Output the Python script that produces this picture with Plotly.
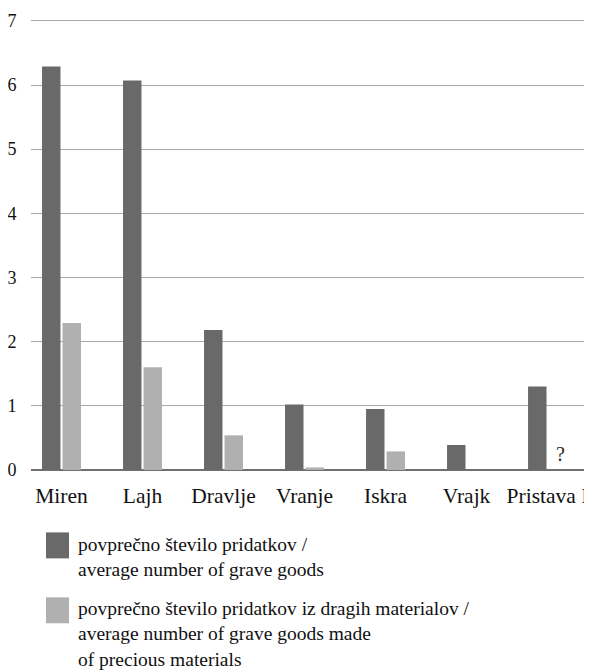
import plotly.graph_objects as go

categories = ["Miren", "Lajh", "Dravlje", "Vranje", "Iskra", "Vrajk", "Pristava I"]
avg_goods = [6.29, 6.07, 2.18, 1.02, 0.95, 0.39, 1.30]
avg_precious = [2.29, 1.60, 0.54, 0.04, 0.29, 0, None]
y_ticks = [0, 1, 2, 3, 4, 5, 6, 7]
legend_labels = [
    "povprečno število pridatkov /<br>average number of grave goods",
    "povprečno število pridatkov iz dragih materialov /<br>average number of grave goods made<br>of precious materials",
]

DARK = "#696969"
LIGHT = "#b0b0b0"
FONT = "Liberation Serif, Times New Roman, DejaVu Serif, serif"

OFF = 8  # page body margin
UNIT = 64.26  # px per y unit
YTOP = 7.06
W, H = 592 - OFF, 672 - OFF
ML, MR = 31 - OFF, 0
MT = (20.7 - (YTOP - 7) * UNIT) - OFF
MB = H - (470.5 - OFF)
PW = W - ML - MR
PH = H - MT - MB


def px(x):
    return (x - OFF - ML) / PW


def py(y):
    return (H - MB - (y - OFF)) / PH


fig = go.Figure()
fig.add_trace(go.Bar(x=categories, y=avg_goods, marker=dict(color=DARK, line=dict(width=0)),
                     name="a", showlegend=False))
fig.add_trace(go.Bar(x=categories, y=avg_precious, marker=dict(color=LIGHT, line=dict(width=0)),
                     name="b", showlegend=False))

fig.add_annotation(x=categories[-1], y=0, text="?", showarrow=False, xshift=13, yshift=3,
                   yanchor="bottom", font=dict(family=FONT, size=20, color="#222"))

# custom legend
sq = [(46, 533, 69, 559), (46, 598, 69, 624)]
colors = [DARK, LIGHT]
text_top = [533, 597]
for (x0, y0, x1, y1), c, lab, tt in zip(sq, colors, legend_labels, text_top):
    fig.add_shape(type="rect", xref="paper", yref="paper", x0=px(x0), x1=px(x1), y0=py(y0), y1=py(y1),
                  fillcolor=c, line=dict(width=0))
    fig.add_annotation(xref="paper", yref="paper", x=px(76), y=py(tt), text=lab, showarrow=False,
                       xanchor="left", yanchor="top", align="left",
                       font=dict(family=FONT, size=19.5, color="#111"))

fig.update_layout(
    width=W, height=H,
    margin=dict(l=ML, r=MR, t=MT, b=MB, autoexpand=False),
    plot_bgcolor="white", paper_bgcolor="white",
    barmode="group", bargap=0.494, bargroupgap=0.1,
    font=dict(family=FONT, color="#111"),
    xaxis=dict(type="category", range=[-0.3765, 6.549], showgrid=False, showline=False,
               ticks="outside", ticklen=6, tickcolor="rgba(0,0,0,0)",
               tickfont=dict(family=FONT, size=21.5, color="#111"), automargin=False, fixedrange=True),
    yaxis=dict(range=[0, YTOP], tickvals=y_ticks, showgrid=True, gridcolor="#a8a8a8", gridwidth=1,
               zeroline=True, zerolinecolor="#707070", zerolinewidth=1.5, showline=False,
               ticks="outside", ticklen=10, tickcolor="rgba(0,0,0,0)",
               tickfont=dict(family=FONT, size=18, color="#111"), automargin=False),
)

fig.write_html("out.html")
